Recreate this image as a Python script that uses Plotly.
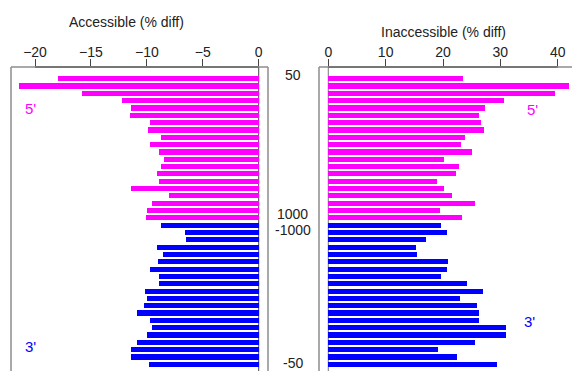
import plotly.graph_objects as go

# ---- data ----
acc_5p = [-17.9, -21.4, -15.8, -12.2, -11.4, -11.5, -9.7, -9.9, -8.7, -9.7,
          -8.9, -8.5, -8.7, -9.1, -8.9, -11.4, -8.05, -9.5, -10.0, -10.1]
acc_3p = [-8.7, -6.6, -6.5, -9.1, -8.6, -9.0, -9.7, -8.9, -8.9, -10.2,
          -10.0, -10.3, -10.9, -9.7, -9.5, -10.0, -10.9, -11.4, -11.4, -9.8]
inacc_5p = [23.4, 41.9, 39.5, 30.7, 27.4, 26.2, 26.7, 27.1, 23.8, 23.1,
            25.1, 20.2, 22.8, 22.3, 18.9, 20.2, 21.6, 25.6, 19.5, 23.3]
inacc_3p = [19.6, 20.7, 17.0, 15.3, 15.4, 20.9, 20.7, 19.7, 24.1, 26.9,
            23.0, 25.9, 26.3, 26.3, 30.9, 30.9, 25.6, 19.2, 22.4, 29.4]

acc_ticks = [-20, -15, -10, -5, 0]
inacc_ticks = [0, 10, 20, 30, 40]
side_labels = ["50", "1000", "-1000", "-50"]

MAG = "#FF00FF"
BLU = "#0000FF"
W, H = 572, 371

pos_5p = list(range(1, len(acc_5p) + 1))
pos_3p = list(range(len(acc_5p) + 1, len(acc_5p) + len(acc_3p) + 1))
label_pos = [pos_5p[0], pos_5p[-1], pos_3p[0], pos_3p[-1]]
label_shift = [4, 4, -5, 1]

def px(x):
    return x / W

def py(y):
    return 1 - y / H

fig = go.Figure()
bw = 0.7
fig.add_trace(go.Bar(x=acc_5p, y=pos_5p, orientation="h", marker_color=MAG,
                     marker_line_width=0, width=bw, xaxis="x", yaxis="y"))
fig.add_trace(go.Bar(x=acc_3p, y=pos_3p, orientation="h", marker_color=BLU,
                     marker_line_width=0, width=bw, xaxis="x", yaxis="y"))
fig.add_trace(go.Bar(x=inacc_5p, y=pos_5p, orientation="h", marker_color=MAG,
                     marker_line_width=0, width=bw, xaxis="x2", yaxis="y"))
fig.add_trace(go.Bar(x=inacc_3p, y=pos_3p, orientation="h", marker_color=BLU,
                     marker_line_width=0, width=bw, xaxis="x2", yaxis="y"))

font = dict(family="Liberation Sans, Arial, sans-serif", size=14, color="#222222")

top_y = 67
fig.update_layout(
    width=W, height=H,
    margin=dict(l=0, r=0, t=0, b=0),
    paper_bgcolor="white", plot_bgcolor="white",
    showlegend=False, bargap=0,
    font=font,
    xaxis=dict(domain=[px(11), px(268)], range=[-22.146, 0.831], side="top",
               tickvals=acc_ticks, ticks="outside", ticklen=7, tickcolor="#444444",
               tickwidth=1, showgrid=False, zeroline=False, showline=False,
               ticklabelstandoff=-4,
               anchor="y", tickfont=font, fixedrange=True),
    xaxis2=dict(domain=[px(319), 1.0], range=[-1.62, 42.49], side="top",
                tickvals=inacc_ticks, ticks="outside", ticklen=7, tickcolor="#444444",
                tickwidth=1, showgrid=False, zeroline=False, showline=False,
                ticklabelstandoff=-4,
                anchor="y", tickfont=font, fixedrange=True),
    yaxis=dict(domain=[0, py(top_y)], range=[40.915, -0.598], showticklabels=False,
               showgrid=False, zeroline=False, showline=False, ticks="", fixedrange=True),
)

box = "#8c8c8c"
dark = "#444444"
shapes = [
    # left panel box
    dict(type="line", xref="paper", yref="paper", x0=px(11), x1=px(11), y0=0, y1=py(top_y),
         line=dict(color=box, width=1.5)),
    dict(type="line", xref="paper", yref="paper", x0=px(11), x1=px(268), y0=py(top_y), y1=py(top_y),
         line=dict(color=box, width=1.5)),
    dict(type="line", xref="paper", yref="paper", x0=px(268), x1=px(268), y0=0, y1=py(top_y),
         line=dict(color=box, width=1.5)),
    # right panel box
    dict(type="line", xref="paper", yref="paper", x0=px(319), x1=px(319), y0=0, y1=py(top_y),
         line=dict(color=box, width=1.5)),
    dict(type="line", xref="paper", yref="paper", x0=px(319), x1=1, y0=py(top_y), y1=py(top_y),
         line=dict(color=box, width=1.5)),
    # axis lines along ticks
    dict(type="line", xref="x", yref="paper", x0=acc_ticks[0], x1=acc_ticks[-1],
         y0=py(top_y), y1=py(top_y), line=dict(color=dark, width=1)),
    dict(type="line", xref="x2", yref="paper", x0=inacc_ticks[0], x1=inacc_ticks[-1],
         y0=py(top_y), y1=py(top_y), line=dict(color=dark, width=1)),
    # zero lines
    dict(type="line", xref="x", yref="paper", x0=0, x1=0, y0=0, y1=py(top_y),
         line=dict(color=dark, width=1), layer="below"),
    dict(type="line", xref="x2", yref="paper", x0=0, x1=0, y0=0, y1=py(top_y),
         line=dict(color="#777777", width=1), layer="below"),
]
fig.update_layout(shapes=shapes)

ann = [
    dict(text="Accessible (% diff)", x=px(126.5), y=py(21.7), xref="paper", yref="paper",
         showarrow=False, xanchor="center", yanchor="middle", font=font),
    dict(text="Inaccessible (% diff)", x=px(443), y=py(31.7), xref="paper", yref="paper",
         showarrow=False, xanchor="center", yanchor="middle", font=font),
]
for lab, p, s in zip(side_labels, label_pos, label_shift):
    ann.append(dict(text=lab, x=px(293), y=p, xref="paper", yref="y", yshift=s,
                    showarrow=False, xanchor="center", yanchor="middle", font=font))

lab_font_m = dict(family="Liberation Sans, Arial, sans-serif", size=15, color=MAG)
lab_font_b = dict(family="Liberation Sans, Arial, sans-serif", size=15, color=BLU)
ann += [
    dict(text="5'", x=px(31), y=py(108.5), xref="paper", yref="paper", showarrow=False,
         xanchor="center", yanchor="middle", font=lab_font_m),
    dict(text="3'", x=px(31), y=py(346), xref="paper", yref="paper", showarrow=False,
         xanchor="center", yanchor="middle", font=lab_font_b),
    dict(text="5'", x=px(532.5), y=py(109), xref="paper", yref="paper", showarrow=False,
         xanchor="center", yanchor="middle", font=lab_font_m),
    dict(text="3'", x=px(529), y=py(321), xref="paper", yref="paper", showarrow=False,
         xanchor="center", yanchor="middle", font=lab_font_b),
]
fig.update_layout(annotations=ann)

fig.write_html("out.html", config={"displayModeBar": False})
